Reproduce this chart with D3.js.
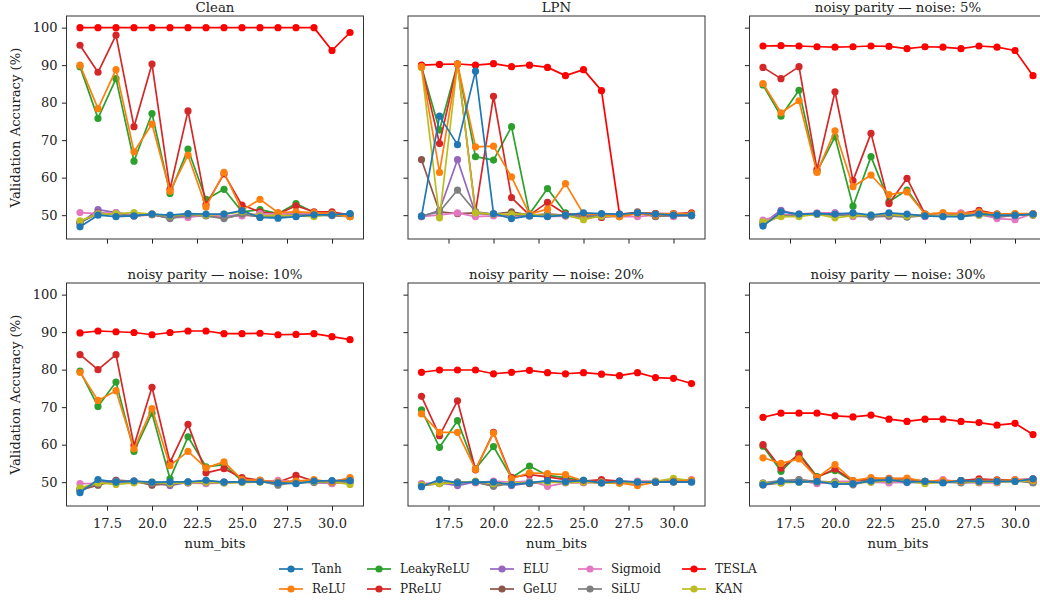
<!DOCTYPE html>
<html lang="en">
<head>
<meta charset="UTF-8" />
<title>Validation accuracy vs num_bits</title>
<script src="https://cdn.jsdelivr.net/npm/d3@7"></script>
<style>
    body { margin: 0; background: #fff; }
    text { font-family: "DejaVu Serif", serif; fill: #222; }
</style>
</head>
<body>
<script>
    // x values shared by every panel
    const bits = [16, 17, 18, 19, 20, 21, 22, 23, 24, 25, 26, 27, 28, 29, 30, 31];
    const xTicks = [17.5, 20.0, 22.5, 25.0, 27.5, 30.0];
    const yTicks = [50, 60, 70, 80, 90, 100];

    const models = ["Tanh", "ReLU", "LeakyReLU", "PReLU", "ELU", "GeLU", "Sigmoid", "SiLU", "TESLA", "KAN"];
    const colors = ["#1f77b4", "#ff7f0e", "#2ca02c", "#d62728", "#9467bd", "#8c564b", "#e377c2", "#7f7f7f", "#ff0000", "#bcbd22"];

    const titles = ["Clean", "LPN", "noisy parity \u2014 noise: 5%", "noisy parity \u2014 noise: 10%", "noisy parity \u2014 noise: 20%", "noisy parity \u2014 noise: 30%"];

    const clean = {
        Tanh: [46.9, 50.0, 49.6, 49.8, 50.3, 50.0, 50.4, 50.3, 50.3, 51.2, 49.4, 49.2, 49.6, 50.1, 50.1, 50.4],
        ReLU: [90.0, 78.4, 88.8, 66.9, 74.3, 56.4, 66.0, 52.2, 61.4, 51.3, 54.2, 50.7, 50.9, 50.7, 50.4, 49.6],
        LeakyReLU: [89.6, 75.8, 86.4, 64.4, 77.1, 55.8, 67.6, 54.2, 56.9, 50.9, 51.5, 50.4, 53.1, 50.7, 50.3, 50.3],
        PReLU: [95.3, 88.1, 98.0, 73.6, 90.3, 56.9, 77.8, 52.8, 61.0, 52.7, 50.9, 50.3, 52.5, 50.9, 50.9, 50.0],
        ELU: [47.8, 51.5, 50.7, 50.0, 50.2, 49.6, 50.1, 50.0, 49.6, 50.2, 50.0, 49.8, 50.2, 50.1, 50.0, 49.9],
        GeLU: [48.0, 50.6, 50.2, 49.8, 50.1, 49.3, 50.0, 49.9, 49.3, 50.1, 49.6, 49.8, 50.0, 50.2, 49.9, 49.6],
        Sigmoid: [50.7, 50.4, 50.7, 49.8, 50.3, 49.4, 49.4, 50.0, 49.7, 49.8, 50.4, 50.3, 50.4, 50.3, 50.3, 49.7],
        SiLU: [48.2, 50.3, 50.3, 49.8, 50.3, 49.1, 50.0, 49.8, 49.1, 50.3, 49.6, 49.7, 50.0, 50.0, 49.9, 49.8],
        TESLA: [100, 100, 100, 100, 100, 100, 100, 100, 100, 100, 100, 100, 100, 100, 93.9, 98.7],
        KAN: [48.5, 50.3, 50.4, 50.7, 50.3, 49.8, 50.3, 50.0, 50.3, 50.9, 49.8, 50.0, 49.8, 49.6, 50.3, 49.6]
    };

    const lpn = {
        Tanh: [49.7, 76.4, 68.8, 88.4, 50.4, 49.1, 49.8, 49.6, 50.0, 50.6, 50.4, 50.3, 50.6, 50.3, 50.0, 50.0],
        ReLU: [89.6, 61.4, 90.3, 68.2, 68.4, 60.2, 50.3, 51.6, 58.4, 50.3, 50.3, 49.6, 50.4, 50.0, 50.3, 50.3],
        LeakyReLU: [89.6, 72.7, 90.3, 65.6, 64.7, 73.6, 50.3, 57.1, 50.6, 49.1, 50.0, 49.8, 50.6, 50.0, 50.3, 50.3],
        PReLU: [89.6, 69.1, 90.3, 50.9, 81.7, 54.7, 50.0, 53.4, 50.3, 50.3, 49.4, 50.0, 50.6, 50.4, 50.4, 50.6],
        ELU: [49.6, 51.3, 64.8, 50.4, 50.3, 50.0, 49.9, 50.1, 50.0, 49.9, 50.1, 49.8, 50.5, 50.0, 49.9, 50.0],
        GeLU: [64.8, 50.9, 50.4, 50.6, 50.3, 50.9, 50.0, 50.3, 50.0, 49.6, 49.6, 49.8, 50.9, 49.6, 50.0, 50.0],
        Sigmoid: [49.6, 50.1, 50.6, 49.6, 49.8, 49.7, 49.8, 49.7, 49.7, 49.6, 49.7, 49.6, 49.6, 50.0, 49.6, 50.0],
        SiLU: [49.8, 50.9, 56.7, 50.9, 50.3, 50.0, 49.8, 50.0, 50.0, 49.7, 49.8, 49.9, 50.6, 49.7, 49.9, 49.8],
        TESLA: [90.0, 90.2, 90.3, 90.0, 90.4, 89.6, 90.0, 89.4, 87.2, 88.8, 83.2, 50.3, 50.6, 50.4, 50.3, 50.4],
        KAN: [89.4, 49.3, 90.3, 50.6, 50.3, 50.3, 50.3, 49.8, 50.0, 48.8, 49.8, 49.6, 50.6, 50.3, 50.3, 50.3]
    };

    const noise5 = {
        Tanh: [47.1, 50.9, 50.3, 50.4, 50.3, 50.6, 50.0, 50.6, 50.3, 49.8, 49.6, 49.6, 50.3, 50.0, 50.0, 50.3],
        ReLU: [85.1, 77.3, 80.5, 61.4, 72.5, 57.6, 60.7, 55.5, 56.2, 50.3, 50.7, 50.3, 50.9, 50.3, 50.4, 50.4],
        LeakyReLU: [84.7, 76.4, 83.3, 61.6, 70.9, 52.4, 65.6, 53.6, 56.7, 50.3, 50.3, 50.3, 50.4, 50.3, 50.3, 50.3],
        PReLU: [89.4, 86.4, 89.6, 62.2, 82.9, 59.2, 71.8, 53.1, 59.8, 50.3, 50.3, 50.4, 51.3, 50.3, 50.0, 50.3],
        ELU: [47.8, 51.3, 50.1, 50.3, 50.6, 50.0, 49.8, 50.2, 50.0, 49.9, 50.2, 50.5, 50.3, 49.4, 50.0, 50.2],
        GeLU: [47.6, 50.0, 50.2, 50.4, 50.0, 50.1, 49.6, 50.0, 49.6, 50.0, 49.8, 50.0, 50.1, 49.8, 50.0, 50.0],
        Sigmoid: [48.7, 50.0, 50.3, 50.6, 50.6, 49.6, 49.8, 49.6, 50.0, 49.6, 50.3, 50.6, 50.3, 49.1, 48.8, 50.4],
        SiLU: [48.0, 49.8, 50.0, 50.2, 50.1, 49.9, 49.5, 49.8, 49.5, 49.9, 49.8, 49.7, 50.0, 49.8, 49.9, 50.1],
        TESLA: [95.1, 95.2, 95.1, 94.9, 94.8, 94.9, 95.1, 95.0, 94.4, 94.9, 94.8, 94.4, 95.1, 94.8, 93.9, 87.2],
        KAN: [48.2, 49.6, 49.6, 50.3, 49.3, 49.9, 50.0, 50.3, 49.8, 50.0, 49.8, 50.0, 50.0, 50.1, 50.4, 50.1]
    };

    const noise10 = {
        Tanh: [47.2, 50.7, 50.0, 50.3, 50.0, 50.1, 50.1, 50.5, 50.0, 50.1, 50.1, 49.8, 49.6, 50.3, 50.4, 50.4],
        ReLU: [79.3, 71.8, 74.4, 58.9, 69.6, 54.4, 58.2, 53.8, 55.4, 50.7, 50.5, 50.0, 50.3, 50.7, 50.0, 51.2],
        LeakyReLU: [79.6, 70.2, 76.7, 58.2, 68.4, 50.9, 62.1, 54.1, 54.7, 50.3, 50.5, 50.0, 50.3, 50.3, 50.0, 50.3],
        PReLU: [84.0, 80.0, 84.0, 59.8, 75.3, 55.3, 65.4, 52.5, 53.6, 51.2, 50.5, 50.0, 51.8, 50.3, 50.3, 50.7],
        ELU: [47.8, 50.0, 50.5, 50.2, 49.8, 49.1, 50.0, 50.2, 50.0, 50.1, 50.3, 50.0, 49.9, 50.1, 49.8, 50.2],
        GeLU: [47.9, 49.2, 50.5, 50.3, 49.2, 49.6, 49.8, 50.0, 49.9, 50.1, 50.3, 49.6, 50.0, 50.0, 49.7, 50.0],
        Sigmoid: [49.6, 49.7, 50.0, 50.3, 49.8, 49.8, 49.8, 49.6, 49.8, 50.0, 50.1, 50.5, 50.1, 50.0, 49.6, 50.3],
        SiLU: [48.2, 49.6, 50.2, 50.1, 49.8, 49.5, 50.0, 49.9, 50.0, 50.1, 50.3, 49.2, 50.0, 49.9, 50.0, 50.1],
        TESLA: [89.8, 90.3, 90.1, 89.9, 89.3, 89.9, 90.3, 90.3, 89.6, 89.6, 89.7, 89.3, 89.4, 89.6, 88.8, 88.0],
        KAN: [48.5, 49.8, 49.4, 49.8, 50.0, 49.7, 49.9, 50.0, 49.8, 49.9, 50.0, 50.0, 49.8, 50.2, 50.1, 49.4]
    };

    const noise20 = {
        Tanh: [48.8, 50.7, 49.8, 50.1, 50.0, 49.4, 49.8, 50.4, 50.1, 50.5, 49.8, 50.3, 50.0, 50.0, 50.1, 50.0],
        ReLU: [68.2, 63.3, 63.3, 53.4, 63.1, 50.9, 52.5, 52.3, 52.0, 50.3, 50.0, 49.8, 49.1, 50.0, 50.3, 50.5],
        LeakyReLU: [69.3, 59.3, 66.4, 53.6, 59.5, 51.2, 54.3, 51.8, 51.2, 50.5, 50.0, 50.0, 50.0, 50.0, 50.3, 50.5],
        PReLU: [72.9, 62.4, 71.7, 53.3, 63.3, 51.3, 52.0, 51.4, 50.7, 50.3, 50.7, 50.3, 50.0, 50.0, 50.3, 50.3],
        ELU: [49.5, 49.8, 49.1, 50.1, 50.0, 49.1, 49.8, 50.0, 50.2, 50.0, 49.9, 50.1, 50.0, 50.0, 50.3, 50.2],
        GeLU: [49.1, 49.6, 50.0, 50.0, 49.1, 49.8, 49.6, 50.1, 50.0, 50.2, 49.8, 50.0, 49.9, 50.1, 50.0, 50.1],
        Sigmoid: [49.6, 49.8, 50.0, 49.8, 50.3, 50.0, 50.3, 48.9, 49.8, 49.8, 50.0, 49.8, 50.3, 50.3, 50.5, 50.7],
        SiLU: [49.3, 49.9, 50.0, 50.0, 48.9, 49.7, 49.9, 50.1, 50.0, 50.0, 50.0, 49.8, 49.9, 50.2, 50.3, 50.2],
        TESLA: [79.3, 79.9, 79.9, 79.9, 78.9, 79.3, 79.8, 79.2, 78.9, 79.2, 78.8, 78.4, 79.2, 77.9, 77.7, 76.3],
        KAN: [49.2, 49.6, 49.8, 50.3, 49.6, 49.8, 49.9, 50.0, 49.9, 50.0, 49.8, 49.7, 50.0, 50.2, 51.0, 50.4]
    };

    const noise30 = {
        Tanh: [49.3, 50.2, 50.0, 50.2, 49.4, 49.6, 50.3, 50.6, 50.0, 50.2, 49.8, 50.4, 50.2, 50.2, 50.2, 50.9],
        ReLU: [56.5, 55.0, 56.2, 51.2, 54.7, 50.4, 51.2, 50.9, 51.1, 50.2, 50.4, 50.2, 50.4, 50.4, 50.6, 50.6],
        LeakyReLU: [59.6, 52.9, 57.7, 51.5, 53.1, 50.2, 50.6, 50.7, 50.4, 50.2, 50.0, 50.4, 50.4, 50.4, 50.4, 50.6],
        PReLU: [60.0, 53.7, 57.3, 51.3, 53.5, 50.4, 50.9, 51.0, 50.9, 50.2, 50.0, 50.4, 50.9, 50.6, 50.6, 50.9],
        ELU: [49.5, 50.0, 50.2, 50.0, 49.8, 50.0, 50.2, 50.0, 49.9, 50.0, 50.2, 50.0, 50.1, 50.0, 50.3, 50.2],
        GeLU: [49.3, 49.8, 50.6, 50.2, 50.0, 49.6, 50.4, 50.7, 50.2, 50.0, 50.0, 50.4, 50.4, 50.4, 50.4, 50.0],
        Sigmoid: [49.6, 50.3, 50.4, 49.6, 50.2, 50.2, 50.0, 49.8, 50.2, 50.0, 50.7, 50.0, 49.8, 49.8, 50.7, 50.7],
        SiLU: [49.8, 50.4, 50.7, 50.0, 50.0, 49.3, 50.6, 50.9, 50.2, 50.0, 50.0, 49.8, 50.0, 50.2, 50.4, 49.8],
        TESLA: [67.3, 68.4, 68.4, 68.4, 67.7, 67.4, 67.9, 66.8, 66.2, 66.8, 66.8, 66.2, 65.9, 65.2, 65.7, 62.7],
        KAN: [49.6, 49.8, 50.0, 50.2, 49.8, 49.8, 50.0, 50.4, 50.2, 49.6, 50.0, 50.2, 50.0, 50.0, 50.2, 50.4]
    };

    const panels = [clean, lpn, noise5, noise10, noise20, noise30];

    // order in which the lines are stacked (last one on top)
    const drawOrder = ["LeakyReLU", "PReLU", "ELU", "GeLU", "Sigmoid", "SiLU", "TESLA", "KAN", "ReLU", "Tanh"];

    const W = 1040, H = 601;
    const pw = 297, ph = 223;
    const lefts = [66.5, 408, 749.5];
    const tops = [16, 283];

    const color = d3.scaleOrdinal().domain(models).range(colors);

    const x = d3.scaleLinear().domain([15.25, 31.75]).range([0, pw]);
    const y = d3.scaleLinear().domain([43.65, 103.1]).range([ph, 0]);

    const svg = d3.select("body").append("svg")
        .attr("width", W)
        .attr("height", H);

    const line = d3.line()
        .x((d, i) => x(bits[i]))
        .y(d => y(d));

    panels.forEach((data, p) => {
        const row = Math.floor(p / 3), col = p % 3;
        const g = svg.append("g")
            .attr("transform", `translate(${lefts[col]},${tops[row]})`);

        const plot = g.append("g");

        drawOrder.forEach(name => {
            const vals = data[name];
            const c = color(name);
            const s = plot.append("g");
            s.append("path")
                .datum(vals)
                .attr("d", line)
                .attr("fill", "none")
                .attr("stroke", c)
                .attr("stroke-width", 1.7)
                .attr("stroke-linejoin", "round");
            s.selectAll("circle")
                .data(vals)
                .enter().append("circle")
                .attr("cx", (d, i) => x(bits[i]))
                .attr("cy", d => y(d))
                .attr("r", 3.6)
                .attr("fill", c);
        });

        // axes
        const xa = d3.axisBottom(x).tickValues(xTicks).tickSize(4.6).tickPadding(8.2)
            .tickFormat(row === 1 ? d3.format(".1f") : "");
        const ya = d3.axisLeft(y).tickValues(yTicks).tickSize(4.6).tickPadding(4.4)
            .tickFormat(col === 0 ? d3.format("d") : "");

        const gx = g.append("g").attr("transform", `translate(0,${ph})`).call(xa);
        const gy = g.append("g").call(ya);
        [gx, gy].forEach(a => {
            a.select(".domain").remove();
            a.selectAll(".tick line").attr("stroke", "#222").attr("stroke-width", 1);
            a.selectAll(".tick text").style("font-family", "DejaVu Serif").style("font-size", "13px").attr("fill", "#222");
        });

        // frame
        g.append("rect")
            .attr("width", pw).attr("height", ph)
            .attr("fill", "none")
            .attr("stroke", "#333")
            .attr("stroke-width", 1);

        g.append("text")
            .attr("x", pw / 2).attr("y", -4)
            .attr("text-anchor", "middle")
            .style("font-size", "13.3px")
            .text(titles[p]);

        if (row === 1) {
            g.append("text")
                .attr("x", pw / 2).attr("y", ph + 42)
                .attr("text-anchor", "middle")
                .style("font-size", "13.2px")
                .text("num_bits");
        }
        if (col === 0) {
            g.append("text")
                .attr("transform", `translate(${-47},${ph / 2}) rotate(-90)`)
                .attr("text-anchor", "middle")
                .style("font-size", "13.2px")
                .text("Validation Accuracy (%)");
        }
    });

    // legend, 5 columns filled top to bottom
    const legX = [279, 367, 490, 578, 682];
    const legY = [569, 589];
    const leg = svg.append("g");
    models.forEach((name, i) => {
        const c = Math.floor(i / 2), r = i % 2;
        const item = leg.append("g").attr("transform", `translate(${legX[c]},${legY[r]})`);
        item.append("line")
            .attr("x1", 0).attr("x2", 24)
            .attr("stroke", color(name)).attr("stroke-width", 1.7);
        item.append("circle").attr("cx", 12).attr("r", 3.6).attr("fill", color(name));
        item.append("text")
            .attr("x", 33).attr("dy", "0.35em")
            .style("font-size", "12px")
            .text(name);
    });
</script>
</body>
</html>
